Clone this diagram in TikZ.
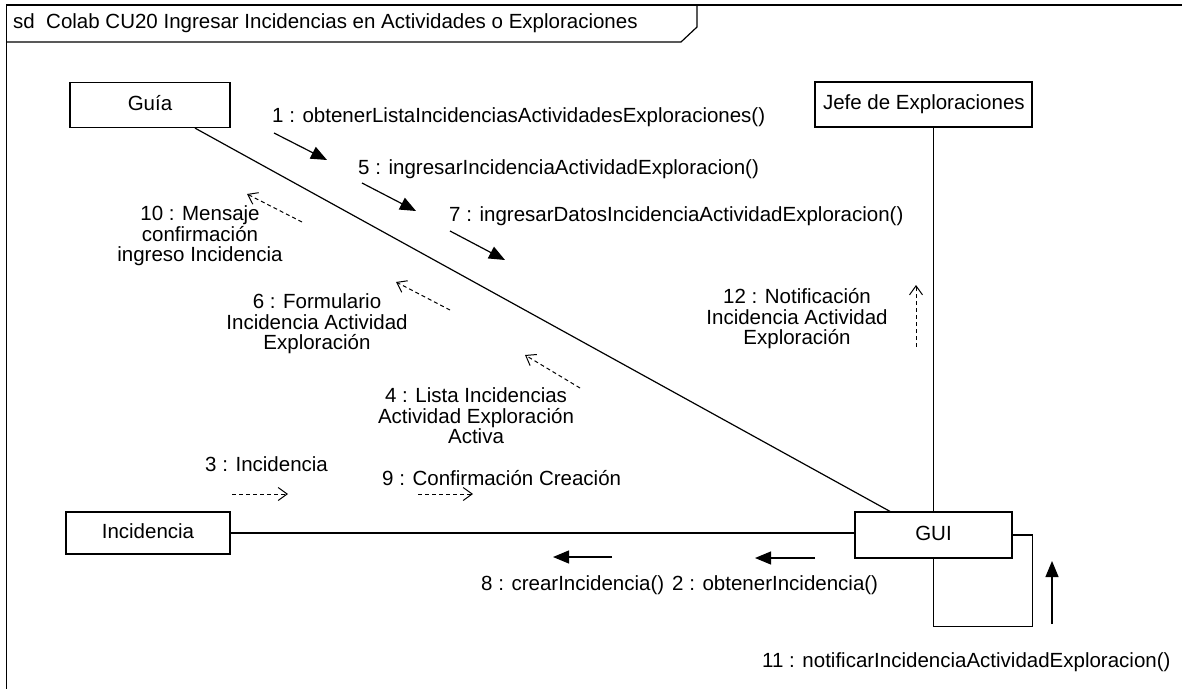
\documentclass[tikz,border=0pt]{standalone}
\usepackage{fontspec}
\setmainfont{Liberation Sans}
\usetikzlibrary{arrows.meta}
\begin{document}
\begin{tikzpicture}[x=1pt,y=-1pt,
  every node/.style={font=\fontsize{20.5}{20.5}\selectfont, inner sep=0pt, text height=14.8pt, text depth=4.3pt},
  obj/.style={draw, line width=1.2pt, minimum height=45pt},
  lnk/.style={line width=1.2pt},
  call/.style={line width=1.2pt, -{Triangle[length=16pt,width=13pt]}},
  ret/.style={line width=1pt, dash pattern=on 4pt off 3pt, -{Straight Barb[length=9pt,width=13pt]}},
  ml/.style={align=center, text height=, text depth=}
]
\useasboundingbox (0,0) rectangle (1182,688);
% frame
\draw[lnk] (6.5,690) -- (6.5,5) -- (1184,5);
\draw[lnk] (6.5,42) -- (681,42) -- (697,27) -- (697,5);
\node[anchor=west] (title) at (13,23) {sd\ \ Colab CU20 Ingresar Incidencias en Actividades o Exploraciones};
% objects
\node[obj, minimum width=160pt] (guia) at (150,105) {Guía};
\node[obj, minimum width=217pt] (jefe) at (923.5,104.5) {\makebox[201pt][l]{Jefe de Exploraciones}};
\node[obj, minimum width=164pt, minimum height=42pt] (inc) at (148,533) {Incidencia};
\node[obj, minimum width=157pt, minimum height=46pt] (gui) at (933.5,535) {GUI};
% links
\draw[lnk] ([xshift=45pt]guia.south) -- ([xshift=-43.5pt]gui.north);
\draw[lnk] (jefe.south -| gui.north) -- (gui.north);
\draw[lnk] (inc.east) -- (inc.east -| gui.west);
\draw[lnk] (gui.east) -- ++(20,0) |- ([yshift=-68pt]gui.south) -- (gui.south);
% messages Guia -> GUI
\node[anchor=west] (m1) at (272,117) {1 : obtenerListaIncidenciasActividadesExploraciones()};
\draw[call] (274,133) -- (327,160);
\node[anchor=west] (m5) at (358,169) {5 : ingresarIncidenciaActividadExploracion()};
\draw[call] (362,183) -- (416,211);
\node[anchor=west] (m7) at (449,216) {7 : ingresarDatosIncidenciaActividadExploracion()};
\draw[call] (450,231) -- (505,260);
% returns GUI -> Guia
\node[ml] (m10) at (200,236) {10 : Mensaje\\confirmación\\ingreso Incidencia};
\draw[ret] (302,222) -- (247,194);
\node[ml] (m6) at (317,324) {6 : Formulario\\Incidencia Actividad\\Exploración};
\draw[ret] (450,310) -- (396,282);
\node[ml] (m4) at (476,416) {4 : Lista Incidencias\\Actividad Exploración\\Activa};
\draw[ret] (580,388) -- (525,355);
% GUI -> Jefe
\node[ml] (m12) at (797,319) {12 : Notificación\\Incidencia Actividad\\Exploración};
\draw[ret] (916,347) -- (916,285);
% Incidencia <-> GUI
\node[anchor=west] (m3) at (205,466) {3 : Incidencia};
\draw[ret] (232,494) -- (288,494);
\node[anchor=west] (m9) at (382,480) {9 : Confirmación Creación};
\draw[ret] (418,494) -- (473,494);
\draw[call] (612,557) -- (553,557);
\node[anchor=west] (m8) at (481,585) {8 : crearIncidencia()};
\draw[call] (815,558) -- (755,558);
\node[anchor=west] (m2) at (672,585) {2 : obtenerIncidencia()};
% self
\draw[call] (1052,624) -- (1052,561);
\node[anchor=west] (m11) at (762,662) {11 : notificarIncidenciaActividadExploracion()};
\end{tikzpicture}
\end{document}
